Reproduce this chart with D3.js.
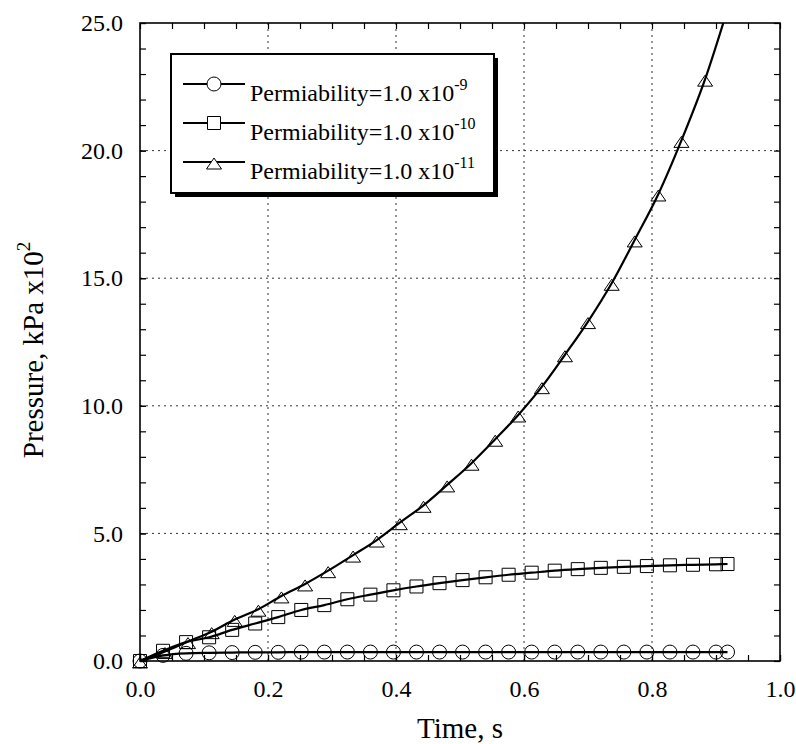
<!DOCTYPE html>
<html>
<head>
<meta charset="utf-8">
<script src="https://cdn.jsdelivr.net/npm/d3@7"></script>
<style>
  body { margin: 0; background: #fff; }
  text { font-family: "Liberation Serif", "Times New Roman", serif; fill: #000; }
</style>
</head>
<body>
<div id="chart"></div>
<script>

// ---- DATA ----
let timeCircle = [0, 0.036, 0.072, 0.108, 0.144, 0.18, 0.216, 0.252, 0.288, 0.324, 0.36, 0.396, 0.432,
    0.468, 0.504, 0.54, 0.576, 0.612, 0.648, 0.684, 0.72, 0.756, 0.792, 0.828, 0.864, 0.9, 0.918];
let pressCircle = [0, 0.22, 0.30, 0.32, 0.33, 0.34, 0.34, 0.35, 0.35, 0.35, 0.35, 0.35, 0.35,
    0.35, 0.35, 0.35, 0.35, 0.35, 0.35, 0.35, 0.35, 0.35, 0.35, 0.35, 0.35, 0.35, 0.35];

let timeSquare = timeCircle;
let pressSquare = [0, 0.40, 0.74, 0.93, 1.22, 1.47, 1.72, 2.0, 2.19, 2.42, 2.6, 2.77, 2.92,
    3.05, 3.17, 3.28, 3.38, 3.46, 3.54, 3.60, 3.65, 3.69, 3.72, 3.75, 3.77, 3.79, 3.80];

let timeTriangle = [0, 0.039, 0.075, 0.112, 0.148, 0.185, 0.221, 0.258, 0.294, 0.333, 0.37, 0.406, 0.443,
    0.48, 0.518, 0.555, 0.591, 0.628, 0.664, 0.70, 0.737, 0.773, 0.81, 0.846, 0.883, 0.92];
let pressTriangle = [0, 0.37, 0.76, 1.15, 1.63, 2.03, 2.55, 3.02, 3.54, 4.15, 4.74, 5.42, 6.1,
    6.9, 7.75, 8.69, 9.64, 10.75, 12.0, 13.3, 14.8, 16.5, 18.3, 20.4, 22.8, 25.7];

let seriesNames = ["Permiability=1.0 x10", "Permiability=1.0 x10", "Permiability=1.0 x10"];
let seriesExp = ["-9", "-10", "-11"];
let seriesShape = ["circle", "square", "triangle"];

let xTicks = [0, 0.2, 0.4, 0.6, 0.8, 1.0];
let yTicks = [0, 5, 10, 15, 20, 25];

let series = [
    {shape: seriesShape[0], values: timeCircle.map((t, i) => ({t: t, p: pressCircle[i]}))},
    {shape: seriesShape[1], values: timeSquare.map((t, i) => ({t: t, p: pressSquare[i]}))},
    {shape: seriesShape[2], values: timeTriangle.map((t, i) => ({t: t, p: pressTriangle[i]}))}
];

// ---- CHART AREA ----
let margin = {top: 23, right: 16, bottom: 83, left: 140},
    width = 796 - margin.left - margin.right,
    height = 744 - margin.top - margin.bottom;

let svg = d3.select("#chart").append("svg")
    .attr("width", 796)
    .attr("height", 744)
    .append("g")
    .attr("transform", "translate(" + margin.left + "," + margin.top + ")");

let x = d3.scaleLinear().domain([0, 1]).range([0, width]);
let y = d3.scaleLinear().domain([0, 25]).range([height, 0]);

let minorX = d3.range(0, 1.0001, 0.05);
let minorY = d3.range(0, 25.0001, 1);

// ---- GRID ----
svg.append("g")
    .selectAll("line.gx")
    .data(xTicks.slice(1, -1))
    .enter().append("line")
    .attr("x1", d => x(d)).attr("x2", d => x(d))
    .attr("y1", 0).attr("y2", height)
    .attr("stroke", "#333").attr("stroke-width", 1).attr("stroke-dasharray", "2,4");

svg.append("g")
    .selectAll("line.gy")
    .data(yTicks.slice(1, -1))
    .enter().append("line")
    .attr("y1", d => y(d)).attr("y2", d => y(d))
    .attr("x1", 0).attr("x2", width)
    .attr("stroke", "#333").attr("stroke-width", 1).attr("stroke-dasharray", "2,4");

// ---- AXES ----
function styleAxis(g) {
    g.select(".domain").remove();
    g.selectAll("line").attr("stroke", "#000").attr("stroke-width", 1.2);
    g.selectAll("text").attr("font-family", "'Liberation Serif', 'Times New Roman', serif").attr("font-size", 24);
}

svg.append("g")
    .attr("transform", "translate(0," + height + ")")
    .call(d3.axisBottom(x).tickValues(xTicks).tickFormat(d3.format(".1f")).tickSizeInner(-6).tickSizeOuter(0).tickPadding(19))
    .call(styleAxis);
svg.append("g")
    .attr("transform", "translate(0," + height + ")")
    .call(d3.axisBottom(x).tickValues(minorX).tickFormat("").tickSizeInner(-6).tickSizeOuter(0))
    .call(styleAxis);
svg.append("g")
    .call(d3.axisTop(x).tickValues(minorX).tickFormat("").tickSizeInner(-6).tickSizeOuter(0))
    .call(styleAxis);

svg.append("g")
    .call(d3.axisLeft(y).tickValues(yTicks).tickFormat(d3.format(".1f")).tickSizeInner(-6).tickSizeOuter(0).tickPadding(17))
    .call(styleAxis);
svg.append("g")
    .call(d3.axisLeft(y).tickValues(minorY).tickFormat("").tickSizeInner(-6).tickSizeOuter(0))
    .call(styleAxis);
svg.append("g")
    .attr("transform", "translate(" + width + ",0)")
    .call(d3.axisRight(y).tickValues(minorY).tickFormat("").tickSizeInner(-6).tickSizeOuter(0))
    .call(styleAxis);

// ---- LINES + MARKERS ----
svg.append("clipPath").attr("id", "plotClip")
    .append("rect").attr("width", width).attr("height", height);

let line = d3.line()
    .x(d => x(d.t))
    .y(d => y(d.p))
    .curve(d3.curveMonotoneX);

function markerPath(shape) {
    if (shape === "circle") return "M7,0A7,7 0 1,1 -7,0A7,7 0 1,1 7,0Z";
    if (shape === "square") return "M-6.5,-6.5H6.5V6.5H-6.5Z";
    return "M0,-4L7.5,7L-7.5,7Z";
}

series.forEach(s => {
    svg.append("path")
        .datum(s.values)
        .attr("clip-path", "url(#plotClip)")
        .attr("fill", "none")
        .attr("stroke", "#000")
        .attr("stroke-width", 2.2)
        .attr("d", line);

    svg.append("g")
        .selectAll("path")
        .data(s.values.filter(d => d.p <= 25))
        .enter().append("path")
        .attr("transform", d => "translate(" + x(d.t) + "," + y(d.p) + ")")
        .attr("d", markerPath(s.shape))
        .attr("fill", "none")
        .attr("stroke", "#000")
        .attr("stroke-width", 1);
});

// frame
svg.append("rect")
    .attr("width", width).attr("height", height)
    .attr("fill", "none").attr("stroke", "#000").attr("stroke-width", 1.6);

// ---- LEGEND ----
let legend = svg.append("g").attr("transform", "translate(" + (171 - margin.left) + "," + (54 - margin.top) + ")");
legend.append("rect").attr("x", 4).attr("y", 4).attr("width", 323).attr("height", 139).attr("fill", "#000");
legend.append("rect").attr("width", 323).attr("height", 139)
    .attr("fill", "#fff").attr("stroke", "#000").attr("stroke-width", 2);

seriesShape.forEach((shape, i) => {
    let ly = 30 + i * 39;
    legend.append("line")
        .attr("x1", 12).attr("x2", 74).attr("y1", ly).attr("y2", ly)
        .attr("stroke", "#000").attr("stroke-width", 2.2);
    legend.append("path")
        .attr("transform", "translate(43," + ly + ")")
        .attr("d", markerPath(shape))
        .attr("fill", "#fff").attr("stroke", "#000").attr("stroke-width", 1);
    let txt = legend.append("text")
        .attr("x", 79).attr("y", ly + 16.5)
        .attr("font-size", 24);
    txt.append("tspan").text(seriesNames[i]);
    txt.append("tspan").attr("font-size", 16).attr("dy", -11).text(seriesExp[i]);
});

// ---- AXIS TITLES ----
svg.append("text")
    .attr("x", width / 2).attr("y", 738 - margin.top)
    .attr("text-anchor", "middle")
    .attr("font-size", 29)
    .text("Time, s");

let yTitle = svg.append("text")
    .attr("transform", "translate(" + (43 - margin.left) + "," + (350 - margin.top) + ") rotate(-90)")
    .attr("text-anchor", "middle")
    .attr("font-size", 29);
yTitle.append("tspan").text("Pressure, kPa x10");
yTitle.append("tspan").attr("font-size", 19).attr("dy", -13).text("2");

</script>
</body>
</html>
